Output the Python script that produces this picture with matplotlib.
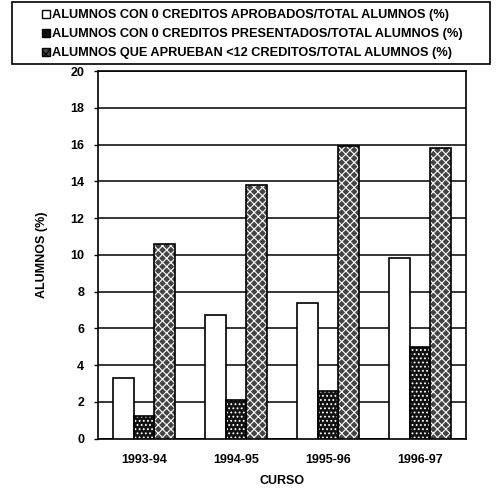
import matplotlib
matplotlib.use('Agg')
import matplotlib.pyplot as plt
from matplotlib.patches import Rectangle
import numpy as np

plt.rcParams['font.family'] = ['Liberation Sans', 'DejaVu Sans']
plt.rcParams['font.weight'] = 'bold'
plt.rcParams['hatch.linewidth'] = 0.8

# Data
cursos = ['1993-94', '1994-95', '1995-96', '1996-97']
aprobados_0 = [3.3, 6.7, 7.4, 9.8]
presentados_0 = [1.2, 2.1, 2.6, 5.0]
menos_12 = [10.6, 13.8, 15.9, 15.8]

labels = ['ALUMNOS CON 0 CREDITOS APROBADOS/TOTAL ALUMNOS (%)',
          'ALUMNOS CON 0 CREDITOS PRESENTADOS/TOTAL ALUMNOS (%)',
          'ALUMNOS QUE APRUEBAN <12 CREDITOS/TOTAL ALUMNOS (%)']

series = [aprobados_0, presentados_0, menos_12]
styles = [dict(color='white', hatch=None),
          dict(color='#111111', hatch='....'),
          dict(color='#444444', hatch='xxxx')]

fig = plt.figure(figsize=(4.99, 4.88), dpi=100)
ax = fig.add_axes([98 / 499, 1 - 438.5 / 488, 368 / 499, 367.5 / 488])

x = np.arange(len(cursos))
w = 0.228
handles = []
for i, (vals, st) in enumerate(zip(series, styles)):
    pos = x + (i - 1) * w
    # textured fill, white hatch
    ax.bar(pos, vals, w, color=st['color'], hatch=st['hatch'],
           edgecolor='white', linewidth=0, zorder=3)
    # black outline on top
    ax.bar(pos, vals, w, fill=False, edgecolor='black', linewidth=1.2, zorder=4)
    handles.append(Rectangle((0, 0), 1, 1, facecolor=st['color'], hatch=st['hatch'],
                             edgecolor='black', linewidth=1.0))

ax.set_xlim(-0.5, 3.5)
ax.set_ylim(0, 20)
ax.set_yticks(range(0, 21, 2))
ax.set_xticks(x)
ax.set_xticklabels(cursos)
ax.yaxis.grid(True, color='black', linewidth=1.1, zorder=0)
ax.set_axisbelow(True)
ax.tick_params(axis='x', length=0, pad=11, labelsize=9)
ax.tick_params(axis='y', length=3, width=1, pad=7, labelsize=9)
for s in ax.spines.values():
    s.set_linewidth(1.2)
ax.set_ylabel('ALUMNOS (%)', fontsize=9, fontweight='bold', labelpad=16)
ax.set_xlabel('CURSO', fontsize=9, fontweight='bold', labelpad=7)

# legend above the plot, framed box
fig.patches.append(Rectangle((12 / 499, 1 - 64 / 488), 478 / 499, 62 / 488,
                             transform=fig.transFigure, fill=False,
                             edgecolor='black', linewidth=1.2))
fig.legend(handles, labels, loc='upper left', bbox_to_anchor=(32 / 499, 1 + 1 / 488),
           frameon=False, handlelength=0.6, handleheight=0.6,
           handletextpad=0.15, labelspacing=0.55, borderpad=0.3,
           prop={'weight': 'bold', 'size': 9.2})

fig.savefig('out.png', dpi=100)
